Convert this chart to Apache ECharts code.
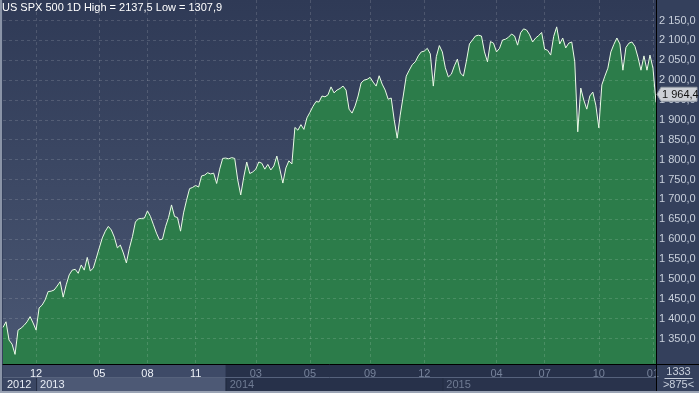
<!DOCTYPE html>
<html><head><meta charset="utf-8">
<script src="https://cdn.jsdelivr.net/npm/echarts@6/dist/echarts.min.js"></script>
<style>html,body{margin:0;padding:0;background:#34405c;overflow:hidden}#c{width:699px;height:393px}</style>
</head><body><div id="c"></div>
<script>
// ---- data ----
const closes = [
1378,1392,1346,1336,1310,1371,1376,1383,1392,1405,1389,1371,1427,1434,1447,1468,1469,1472,1482,1493,
1454,1485,1510,1522,1524,1514,1535,1522,1554,1520,1527,1552,1578,1603,1620,1632,1623,1605,1578,1585,
1565,1540,1577,1606,1643,1651,1652,1653,1671,1657,1636,1615,1598,1600,1631,1654,1686,1657,1654,1620,
1666,1698,1727,1730,1735,1731,1759,1761,1767,1764,1766,1740,1776,1803,1804,1802,1805,1803,1749,1711,
1756,1794,1765,1769,1776,1794,1791,1776,1788,1774,1784,1809,1776,1741,1779,1797,1789,1881,1874,1888,
1876,1905,1919,1934,1946,1945,1960,1958,1963,1983,1968,1975,1979,1985,1975,1927,1917,1935,1960,1993,
2000,2002,2007,1995,1985,2011,1990,1975,1952,1955,1900,1854,1912,1960,2010,2025,2039,2046,2061,2071,
2073,2080,2066,1985,2059,2087,2071,2031,2008,2015,2036,2053,2018,2010,2048,2091,2101,2111,2113,2111,
2071,2046,2097,2093,2071,2080,2101,2103,2108,2116,2111,2088,2119,2129,2126,2114,2096,2106,2112,2120,
2078,2075,2063,2110,2134,2091,2106,2081,2093,2096,2046,1870,1980,1950,1927,1960,1970,1937,1880,1988,
2010,2030,2071,2090,2106,2091,2025,2082,2093,2096,2085,2058,2025,2061,2025,2063,2030,1944
];
const monthTickIndex = [11, 32, 48, 64, 84, 102, 122, 140, 164, 180, 198, 216];
const monthTickLabels = ['12','05','08','11','03','05','09','12','04','07','10','01'];
const yearStartIndex = [0, 11, 74, 146];
const yearLabels = ['2012','2013','2014','2015'];
const priceTicks = [1350,1400,1450,1500,1550,1600,1650,1700,1750,1800,1850,1900,1950,2000,2050,2100,2150];
const highValue = 2137.5;
const lowValue = 1307.9;
const lastClose = 1964.4;
const footerTop = '1333';
const footerBottom = '>875<';
const yMin = 1285.8, yMax = 2201.6;

// ---- helpers ----
function fmt(v){
  const s = v.toFixed(1).split('.');
  return s[0].replace(/\B(?=(\d{3})+(?!\d))/g,' ') + ',' + s[1];
}
function fmtPlain(v){ return v.toFixed(1).replace('.', ','); }
const tickSet = new Set(monthTickIndex);
const labelMap = {};
monthTickIndex.forEach((k,i)=>{ labelMap[String(k)] = monthTickLabels[i]; });
const cats = closes.map((_, i) => String(i));
const FONT = 'Arial, "Liberation Sans", sans-serif';
const grid = {left:3, right:43, top:0, bottom:29};

const chart = echarts.init(document.getElementById('c'), null, {renderer:'canvas'});
chart.setOption({
  animation:false,
  backgroundColor:'#34405c',
  textStyle:{fontFamily:FONT},
  title:{
    text:'US SPX 500 1D High = ' + fmtPlain(highValue) + ' Low = ' + fmtPlain(lowValue),
    left:2, top:2, padding:0,
    textStyle:{color:'#ffffff', fontSize:11, fontWeight:'normal', fontFamily:FONT}
  },
  grid:{
    left:grid.left, right:grid.right, top:grid.top, bottom:grid.bottom, show:true, borderWidth:0,
    backgroundColor:{type:'linear', x:0, y:0, x2:0, y2:1, colorStops:[
      {offset:0, color:'#2f3a56'}, {offset:1, color:'#4a5773'}]}
  },
  xAxis:{
    type:'category', data:cats, boundaryGap:false, z:3,
    axisLine:{show:true, onZero:false, lineStyle:{color:'#000000', width:1}},
    axisTick:{show:false},
    axisLabel:{
      interval:(i)=>tickSet.has(i), formatter:(v)=>labelMap[v] || '',
      color:(v)=> (+v < yearStartIndex[2] ? '#eef2f8' : '#76829a'),
      fontSize:11, fontFamily:FONT, margin:4
    },
    splitLine:{show:true, interval:(i)=>tickSet.has(i), lineStyle:{color:'rgba(255,255,255,0.14)', type:[3,3], width:1}}
  },
  yAxis:{
    type:'value', position:'right', min:yMin, max:yMax, z:3,
    axisLine:{show:true, lineStyle:{color:'#000000', width:1}},
    axisTick:{show:false, customValues:priceTicks},
    axisLabel:{customValues:priceTicks, formatter:fmt, color:'#c9d0dc', fontSize:11, fontFamily:FONT, margin:3},
    splitLine:{show:true, lineStyle:{color:'rgba(255,255,255,0.14)', type:[3,3], width:1}}
  },
  series:[{
    type:'line', data:closes, symbol:'none', z:2,
    lineStyle:{color:'#eafbe6', width:1},
    areaStyle:{color:'#2c7c4a', opacity:1, origin:'start'}
  }]
});

// ---- chrome built from the axis scale ----
const px = (i) => chart.convertToPixel({xAxisIndex:0}, i);
const py = (v) => chart.convertToPixel({yAxisIndex:0}, v);
const W = 699, H = 393;
const plotR = W - grid.right, plotB = H - grid.bottom;
const row1T = plotB + 1, row2T = plotB + 14, rowEnd = H - 2;
const g = [];
const hiEnd = px(yearStartIndex[2]);
g.push({type:'rect', z:1, shape:{x:grid.left, y:row1T, width:hiEnd-grid.left, height:row2T-row1T}, style:{fill:'#3e4a67'}});
g.push({type:'rect', z:1, shape:{x:hiEnd, y:row1T, width:plotR-hiEnd, height:row2T-row1T}, style:{fill:'#27314a'}});
const bandFill = ['#3a4663','#4d5975','#27314a','#29334c'];
const bandText = ['#e8edf5','#e8edf5','#6f7b93','#6f7b93'];
yearStartIndex.forEach((s, k) => {
  const x0 = k === 0 ? grid.left : px(s);
  const x1 = k < yearStartIndex.length - 1 ? px(yearStartIndex[k+1]) : plotR;
  g.push({type:'rect', z:1, shape:{x:x0, y:row2T, width:x1-x0, height:rowEnd-row2T}, style:{fill:bandFill[k]}});
  if (k > 0) g.push({type:'line', z:1, shape:{x1:x0+0.5, y1:row2T, x2:x0+0.5, y2:rowEnd}, style:{stroke:'#222b40', lineWidth:1}});
  g.push({type:'text', z:4, style:{text:yearLabels[k], x:x0+4, y:(row2T+rowEnd)/2+0.5, fill:bandText[k], font:'11px ' + FONT, textVerticalAlign:'middle'}});
});
g.push({type:'line', z:1, shape:{x1:grid.left, y1:row2T-0.5, x2:plotR, y2:row2T-0.5}, style:{stroke:'#56627c', lineWidth:1}});
// right-bottom box
g.push({type:'rect', z:1, shape:{x:plotR+1, y:row1T, width:W-plotR-1, height:rowEnd-row1T}, style:{fill:'#34405c'}});
g.push({type:'line', z:5, shape:{x1:plotR+0.5, y1:plotB, x2:plotR+0.5, y2:rowEnd}, style:{stroke:'#000', lineWidth:1}});
g.push({type:'line', z:5, shape:{x1:plotR, y1:plotB+0.5, x2:W, y2:plotB+0.5}, style:{stroke:'#000', lineWidth:1}});
const bx = (plotR + W) / 2 + 1;
g.push({type:'text', z:5, style:{text:footerTop, x:bx, y:row1T+7, fill:'#c9d0dc', font:'11px ' + FONT, textAlign:'center', textVerticalAlign:'middle'}});
g.push({type:'line', z:5, shape:{x1:bx-14, y1:row2T+0.5, x2:bx+14, y2:row2T+0.5}, style:{stroke:'#c9d0dc', lineWidth:1}});
g.push({type:'text', z:5, style:{text:footerBottom, x:bx, y:row2T+7, fill:'#c9d0dc', font:'11px ' + FONT, textAlign:'center', textVerticalAlign:'middle'}});
// borders
g.push({type:'rect', z:6, shape:{x:0, y:0, width:2, height:H}, style:{fill:'#8a94a7'}});
g.push({type:'rect', z:6, shape:{x:0, y:H-2, width:W, height:2}, style:{fill:'#9aa3b4'}});
// last price tag
const ly = py(lastClose);
g.push({type:'polygon', z:10, shape:{points:[[plotR+1, ly], [plotR+5, ly-7], [W-2, ly-7], [W-2, ly+7], [plotR+5, ly+7]]}, style:{fill:'#cdd0d6', stroke:'#9aa0aa', lineWidth:1}});
g.push({type:'text', z:11, style:{text:fmt(lastClose), x:plotR+6, y:ly+0.5, fill:'#111', font:'11px ' + FONT, textVerticalAlign:'middle'}});
chart.setOption({graphic:g});
</script>
</body></html>
